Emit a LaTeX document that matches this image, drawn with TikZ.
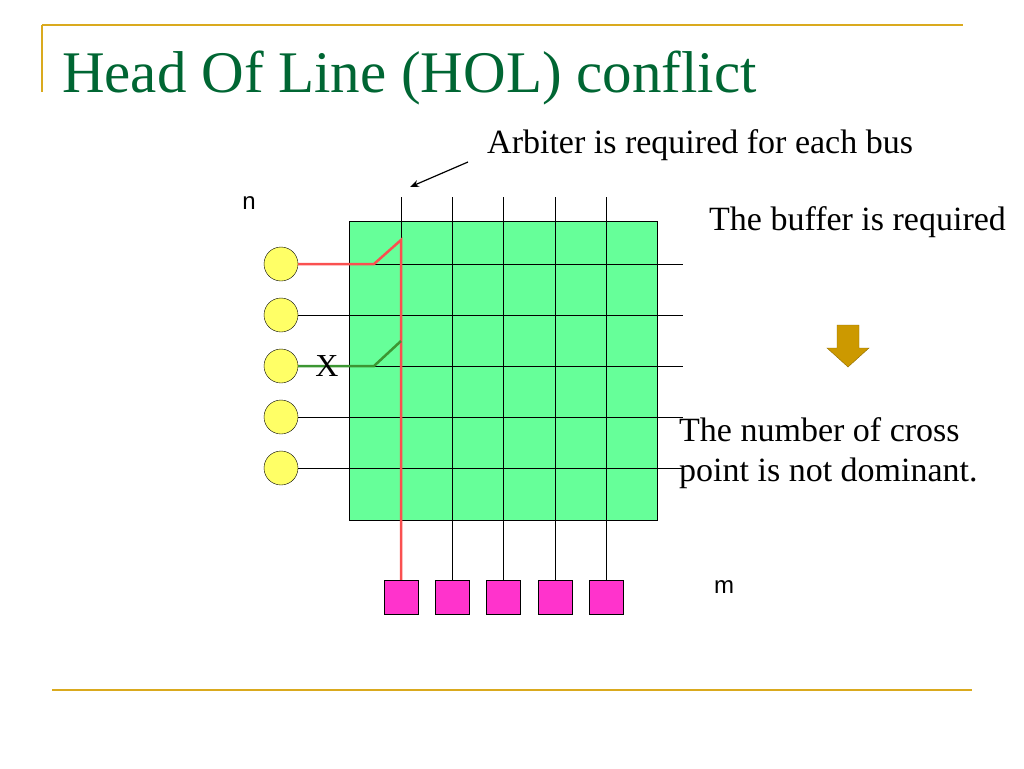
\documentclass[tikz,border=0pt]{standalone}
\usepackage{fontspec}
\setmainfont{Liberation Serif}
\setsansfont{Liberation Sans}
\usetikzlibrary{arrows.meta}
\definecolor{gold}{RGB}{218,170,30}
\definecolor{ttl}{RGB}{0,102,51}
\definecolor{grid}{RGB}{102,255,153}
\definecolor{redp}{RGB}{250,80,80}
\definecolor{grnp}{RGB}{60,150,50}
\definecolor{pinkq}{RGB}{255,51,204}
\definecolor{yel}{RGB}{255,255,102}
\definecolor{arr}{RGB}{204,153,0}
\tikzset{x=1pt,y=-1pt,line width=1pt,
 txt/.style={font=\fontsize{34}{38}\selectfont,inner sep=0pt,anchor=base west},
 inp/.style={circle,draw,fill=yel,minimum size=34pt,inner sep=0pt},
 outp/.style={rectangle,draw,fill=pinkq,minimum size=34pt,inner sep=0pt}}
\begin{document}
\begin{tikzpicture}
\useasboundingbox (0,0) rectangle (1024,768);
\draw[gold,line width=2pt] (42,25) -- (963,25);
\draw[gold,line width=2pt] (42,25) -- (42,92);
\draw[gold,line width=2pt] (52,690) -- (972,690);
\node[anchor=base west,inner sep=0pt,text=ttl,font=\fontsize{59}{64}\selectfont] (title) at (62,92) {Head Of Line (HOL) conflict};
\node[fill=grid,draw,minimum width=308pt,minimum height=299pt,anchor=north west,inner sep=0pt] (box) at (349,221) {};
\foreach \i/\x in {1/401,2/452,3/503,4/555,5/606}{
  \node[outp] (o\i) at (\x,597) {};
  \coordinate (t\i) at (\x,197);
}
\foreach \i in {2,...,5}{\draw (t\i) -- (o\i.north);}
\draw (t1) -- (401,240);
\foreach \i/\y in {1/264,2/315,3/366,4/417,5/468}{
  \node[inp] (i\i) at (281,\y) {};
  \coordinate (e\i) at (683,\y);
  \draw (i\i.east) -- (e\i);
}
\draw[redp,line width=2.5pt] (i1.east) -- (374,264) -- (401,240) -- (o1.north);
\draw[grnp,line width=2.5pt] (i3.east) -- (374,366) -- (401,341);
\node[font=\fontsize{32}{36}\selectfont] (xl) at (327,366) {X};
\node[font=\sffamily\fontsize{24}{28}\selectfont] (nl) at (249,203) {n};
\node[font=\sffamily\fontsize{24}{28}\selectfont] (ml) at (724,587) {m};
\node[txt] (arb) at (487,153) {Arbiter is required for each bus};
\coordinate (arbs) at (468,162);
\coordinate (arbe) at (410,187);
\draw[-{Stealth[length=9pt,width=7pt]},line width=1.2pt] (arbs) -- (arbe);
\fill[arr,draw=arr!70!black] (837,325) -- (859,325) -- (859,348) -- (869,348) -- (848,367) -- (827,348) -- (837,348) -- cycle;
\node[txt] (buf) at (709,230) {The buffer is required};
\node[txt] (n1) at (679,441) {The number of cross};
\node[txt] (n2) at (679,481) {point is not dominant.};
\end{tikzpicture}
\end{document}
